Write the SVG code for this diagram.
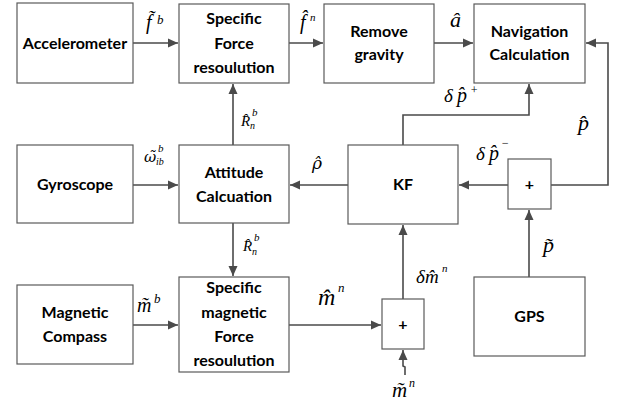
<svg xmlns="http://www.w3.org/2000/svg" width="617" height="409" viewBox="0 0 617 409">
<style>
.box{fill:#fff;stroke:#5a5a5a;stroke-width:1.2}
.t{font-family:Lato,"Liberation Sans",sans-serif;font-weight:bold;font-size:16px;fill:#000;text-anchor:middle}
.ln{fill:none;stroke:#4a4a4a;stroke-width:1.6}
.m{font-family:"Liberation Serif",serif;font-style:italic;fill:#000}
.g{font-family:"DejaVu Serif",serif}
</style>
<defs>
<marker id="ah" viewBox="0 0 10 10" refX="10" refY="5" markerWidth="10" markerHeight="10" markerUnits="userSpaceOnUse" orient="auto">
<path d="M0,0.5 L10,5 L0,9.5 Z" fill="#4a4a4a"/>
</marker>
</defs>
<g id="connectors">
<path class="ln" d="M133,43 H178" marker-end="url(#ah)"/>
<path class="ln" d="M289,43 H323" marker-end="url(#ah)"/>
<path class="ln" d="M434,43 H473" marker-end="url(#ah)"/>
<path class="ln" d="M133,185 H178" marker-end="url(#ah)"/>
<path class="ln" d="M348,185 H290" marker-end="url(#ah)"/>
<path class="ln" d="M233,145 V84" marker-end="url(#ah)"/>
<path class="ln" d="M233,223 V276" marker-end="url(#ah)"/>
<path class="ln" d="M133,325 H178" marker-end="url(#ah)"/>
<path class="ln" d="M289,325 H381" marker-end="url(#ah)"/>
<path class="ln" d="M403,299 V225" marker-end="url(#ah)"/>
<path class="ln" d="M405,375 V367 L403,366 V350" marker-end="url(#ah)"/>
<path class="ln" d="M508,185 H459" marker-end="url(#ah)"/>
<path class="ln" d="M529,277 V210" marker-end="url(#ah)"/>
<path class="ln" d="M551,185 H608 V43 H586" marker-end="url(#ah)"/>
<path class="ln" d="M403,145 V115 H529 V84" marker-end="url(#ah)"/>
</g>
<g id="accelerometer"><rect class="box" x="17" y="3" width="116" height="80"/><text class="t" x="75" y="49">Accelerometer</text></g>
<g id="specific-force"><rect class="box" x="179" y="4" width="110" height="79"/><text class="t" x="234" y="24">Specific</text><text class="t" x="234" y="49">Force</text><text class="t" x="234" y="73">resoulution</text></g>
<g id="remove-gravity"><rect class="box" x="324" y="4" width="110" height="79"/><text class="t" x="379" y="37">Remove</text><text class="t" x="379" y="60">gravity</text></g>
<g id="navigation"><rect class="box" x="474" y="4" width="111" height="79"/><text class="t" x="529.5" y="37">Navigation</text><text class="t" x="529.5" y="60">Calculation</text></g>
<g id="gyroscope"><rect class="box" x="17" y="145" width="116" height="78"/><text class="t" x="75" y="190">Gyroscope</text></g>
<g id="attitude"><rect class="box" x="179" y="145" width="110" height="78"/><text class="t" x="234" y="178">Attitude</text><text class="t" x="234" y="202">Calcuation</text></g>
<g id="kf"><rect class="box" x="348" y="145" width="110" height="79"/><text class="t" x="403" y="190">KF</text></g>
<g id="sum-p"><rect class="box" x="508" y="159" width="43" height="50"/><text class="t" x="529.5" y="190">+</text></g>
<g id="magnetic-compass"><rect class="box" x="17" y="285" width="116" height="79"/><text class="t" x="75" y="318">Magnetic</text><text class="t" x="75" y="342">Compass</text></g>
<g id="specific-magnetic"><rect class="box" x="179" y="277" width="110" height="95"/><text class="t" x="234" y="293">Specific</text><text class="t" x="234" y="318">magnetic</text><text class="t" x="234" y="342">Force</text><text class="t" x="234" y="366">resoulution</text></g>
<g id="sum-m"><rect class="box" x="382" y="299" width="42" height="50"/><text class="t" x="403" y="330">+</text></g>
<g id="gps"><rect class="box" x="474" y="277" width="111" height="79"/><text class="t" x="529.5" y="322">GPS</text></g>
<g id="labels">
<text class="m" x="146" y="29" font-size="20">f&#x303;<tspan x="157" y="24" font-size="13">b</tspan></text>
<text class="m" x="300" y="29" font-size="20">f&#x302;<tspan x="310" y="21" font-size="11">n</tspan></text>
<text class="m" x="450" y="27" font-size="22">a&#x302;</text>
<text class="m" x="241" y="126" font-size="15">R&#x302;<tspan x="252" y="116" font-size="11">b</tspan><tspan x="250" y="129" font-size="10">n</tspan></text>
<text class="m" x="243" y="251" font-size="15">R&#x302;<tspan x="254" y="241" font-size="11">b</tspan><tspan x="252" y="255" font-size="10">n</tspan></text>
<text class="m" x="144" y="162" font-size="15"><tspan class="g">&#x3C9;&#x303;</tspan><tspan x="158" y="152" font-size="11">b</tspan><tspan x="156" y="165" font-size="10">ib</tspan></text>
<text class="m g" x="312" y="169" font-size="17">&#x3C1;&#x302;</text>
<text class="m" x="476" y="160" font-size="19">&#x3B4;<tspan x="489" y="160" font-size="20">p&#x302;</tspan><tspan x="501" y="147" font-size="12">&#x2212;</tspan></text>
<text class="m" x="444" y="102" font-size="19">&#x3B4;<tspan x="457" y="102" font-size="20">p&#x302;</tspan><tspan x="470" y="94" font-size="12">+</tspan></text>
<text class="m" x="578" y="130" font-size="22">p&#x302;</text>
<text class="m" x="543" y="252" font-size="22">p&#x303;</text>
<text class="m" x="416" y="283" font-size="19">&#x3B4;<tspan x="425" y="283">m&#x302;</tspan><tspan x="442" y="272" font-size="11">n</tspan></text>
<text class="m" x="318" y="305" font-size="24">m&#x302;<tspan x="338" y="292" font-size="13">n</tspan></text>
<text class="m" x="392" y="397" font-size="21">m&#x303;<tspan x="409" y="387" font-size="12">n</tspan></text>
<text class="m" x="137" y="312" font-size="20">m&#x303;<tspan x="154" y="303" font-size="13">b</tspan></text>
</g>
</svg>
